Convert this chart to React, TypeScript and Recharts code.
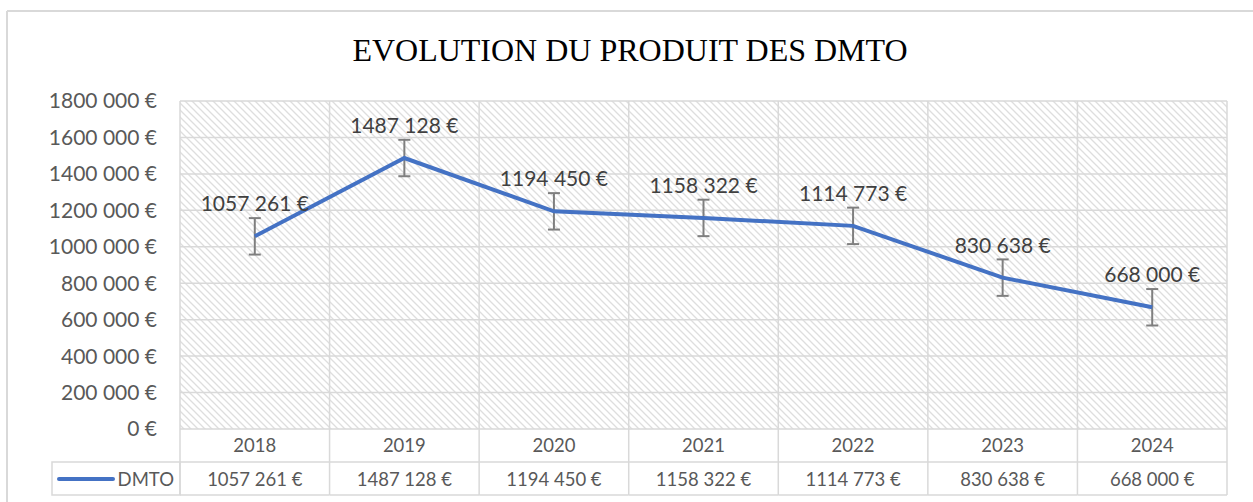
import React from 'react';
import { CartesianGrid, ErrorBar, LabelList, Line, LineChart, XAxis, YAxis } from 'recharts';

const years = ['2018', '2019', '2020', '2021', '2022', '2023', '2024'];
const dmto = [1057261, 1487128, 1194450, 1158322, 1114773, 830638, 668000];
const errorAmount = [100000, 100000, 100000, 100000, 100000, 100000, 100000];
const yTicks = [0, 200000, 400000, 600000, 800000, 1000000, 1200000, 1400000, 1600000, 1800000];
const seriesName = 'DMTO';
const title = 'EVOLUTION DU PRODUIT DES DMTO';

const data = years.map((year, i) => ({ year, value: dmto[i], err: errorAmount[i] }));

const W = 1253;
const H = 502;
const X_AXIS_H = 73;
const M = { top: 101, right: 26, bottom: 0, left: 0 };
const Y_AXIS_W = 180;
const plotW = W - M.right - Y_AXIS_W;
const cellW = plotW / years.length;
const tableTop = H - X_AXIS_H;
const rowMid = 462;
const tableBottom = 495;
const legendLeft = 52;

const GRID = '#d9d9d9';
const FONT = 'Lato, "Open Sans", sans-serif';

const euro = (n: number) =>
  n >= 1000 ? `${Math.floor(n / 1000)} ${String(n % 1000).padStart(3, '0')} €` : `${n} €`;

// data table under the plot, one column per category
const TableTick = ({ x, payload, index }: any) => {
  const left = x - cellW / 2;
  const right = x + cellW / 2;
  return (
    <g>
      {index === 0 && (
        <g>
          <line x1={left} y1={tableTop} x2={left} y2={tableBottom} stroke={GRID} strokeWidth={1.5} />
          <rect x={legendLeft} y={rowMid} width={left - legendLeft} height={tableBottom - rowMid} fill="none" stroke={GRID} strokeWidth={1.5} />
          <line x1={legendLeft + 7} y1={479} x2={legendLeft + 61} y2={479} stroke="#4472C4" strokeWidth={4} strokeLinecap="round" />
          <text x={left - 6} y={479} dy="0.36em" textAnchor="end" fontFamily={FONT} fontSize={18.5} fill="#595959">
            {seriesName}
          </text>
        </g>
      )}
      <line x1={right} y1={tableTop} x2={right} y2={tableBottom} stroke={GRID} strokeWidth={1.5} />
      <line x1={left} y1={rowMid} x2={right} y2={rowMid} stroke={GRID} strokeWidth={1.5} />
      <line x1={left} y1={tableBottom} x2={right} y2={tableBottom} stroke={GRID} strokeWidth={1.5} />
      <text x={x} y={445} dy="0.36em" textAnchor="middle" fontFamily={FONT} fontSize={18.5} fill="#595959">
        {payload.value}
      </text>
      <text x={x} y={479} dy="0.36em" textAnchor="middle" fontFamily={FONT} fontSize={18.5} fill="#595959">
        {euro(dmto[index])}
      </text>
    </g>
  );
};

export default function App() {
  return (
    <div style={{ position: 'relative', width: W, height: H, background: '#fff', overflow: 'hidden' }}>
      <style>{`body{margin:0}`}</style>
      <svg width={W} height={H} style={{ position: 'absolute', left: 0, top: 0 }}>
        <defs>
          <pattern id="hatch" width="7" height="7" patternUnits="userSpaceOnUse">
            <rect width="7" height="7" fill="#fff" />
            <path d="M-2,5 L2,9 M0,0 L7,7 M5,-2 L9,2" stroke="#dedede" strokeWidth="1.3" />
          </pattern>
        </defs>
        <line x1={7} y1={11} x2={7} y2={H} stroke={GRID} strokeWidth={2} />
        <line x1={7} y1={11} x2={W} y2={11} stroke={GRID} strokeWidth={2} />
        <text x={630} y={61} textAnchor="middle" fontFamily='"Liberation Serif", "Times New Roman", serif' fontSize={32} fill="#000">
          {title}
        </text>
      </svg>
      <div style={{ position: 'absolute', left: 0, top: 0 }}>
        <LineChart width={W} height={H} data={data} margin={M}>
          <CartesianGrid
            stroke={GRID}
            strokeWidth={1.5}
            fill="url(#hatch)"
            verticalCoordinatesGenerator={({ offset }: any) =>
              years.map((_, i) => offset.left + i * (offset.width / years.length)).concat(offset.left + offset.width)
            }
          />
          <XAxis
            dataKey="year"
            axisLine={false}
            tickLine={false}
            height={X_AXIS_H}
            interval={0}
            padding={{ left: cellW / 2, right: cellW / 2 }}
            tick={<TableTick />}
          />
          <YAxis
            width={Y_AXIS_W}
            domain={[0, 1800000]}
            ticks={yTicks}
            axisLine={false}
            tickLine={false}
            tickMargin={17}
            interval={0}
            tick={{ fontFamily: FONT, fontSize: 21, fill: '#595959' }}
            tickFormatter={euro}
          />
          <Line dataKey="value" stroke="#4472C4" strokeWidth={4} dot={false} isAnimationActive={false}>
            <ErrorBar dataKey="err" direction="y" width={6} strokeWidth={2} stroke="#7f7f7f" />
            <LabelList dataKey="value" position="top" offset={25} formatter={euro} fontFamily={FONT} fontSize={21} fill="#404040" />
          </Line>
        </LineChart>
      </div>
    </div>
  );
}
